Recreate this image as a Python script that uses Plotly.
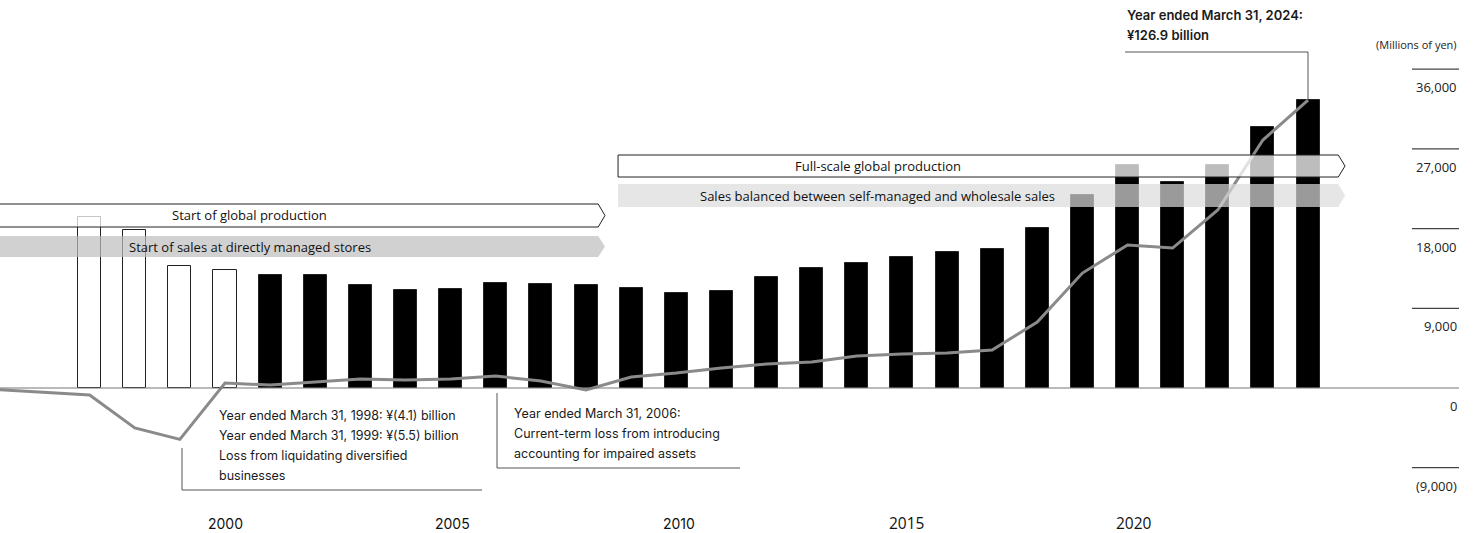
import plotly.graph_objects as go

# fiscal years (year ended March 31)
years = list(range(1997, 2025))
# net sales, billions of yen (bars)
sales = [75.3, 69.6, 53.8, 52.0, 49.8, 49.8, 45.4, 43.2, 43.6, 46.3, 45.8, 45.4, 44.1, 41.9,
         42.7, 48.9, 52.9, 55.1, 57.7, 59.9, 61.2, 70.5, 85.0, 98.3, 90.8, 98.3, 115.0, 126.9]

# profit line, millions of yen
line_years = list(range(1995, 2025))
profit = [-200, -500, -790, -4500, -5800, 560, 340, 680, 1020, 900, 1020, 1350, 790, -230,
          1240, 1690, 2260, 2710, 2940, 3610, 3840, 3950, 4290, 7450, 12980, 16150, 15800,
          20100, 28000, 32500]

tick_vals = [36000, 27000, 18000, 9000, 0, -9000]
tick_text = ["36,000", "27,000", "18,000", "9,000", "0", "(9,000)"]
year_labels = [2000, 2005, 2010, 2015, 2020]

W, H = 1475, 533
FONT = "Open Sans"
NOTE = "Inter"


def py(px):
    # pixel row -> paper y
    return 1 - px / H


def xp(px):
    # pixel column -> paper x
    return px / W


# hollow bars before 2001, solid afterwards
bar_fill = ["white" if y < 2001 else "black" for y in years]

fig = go.Figure()
fig.add_trace(go.Bar(x=years, y=sales, width=0.51, marker_color=bar_fill,
                     marker_line_color="#222", marker_line_width=1, yaxis="y"))
fig.add_trace(go.Scatter(x=line_years, y=profit, mode="lines", yaxis="y2",
                         line=dict(color="#8a8a8a", width=3)))

shapes = []
ann = []


def arrow(x0, x1, xt, top, bot, fill, outline):
    mid = (top + bot) / 2
    path = (f"M {x0},{py(top)} L {x1},{py(top)} L {xt},{py(mid)} "
            f"L {x1},{py(bot)} L {x0},{py(bot)} Z")
    shapes.append(dict(type="path", path=path, xref="x", yref="paper", layer="above",
                       fillcolor=fill, line=dict(color=outline, width=1 if outline else 0)))


# timeline arrows
arrow(1994.5, 2008.27, 2008.42, 204, 227, "rgba(255,255,255,0.74)", "#222")
arrow(1994.5, 2008.27, 2008.42, 236, 257, "rgba(190,190,190,0.7)", None)
arrow(2008.71, 2024.67, 2024.82, 155, 177, "rgba(255,255,255,0.74)", "#222")
arrow(2008.71, 2024.67, 2024.82, 184, 207, "rgba(219,219,219,0.7)", None)

for txt, x, yy in [("Start of global production", 2000.55, 215.5),
                   ("Start of sales at directly managed stores", 2000.55, 246.5),
                   ("Full-scale global production", 2014.47, 166),
                   ("Sales balanced between self-managed and wholesale sales", 2014.47, 195.5)]:
    ann.append(dict(text=txt, x=x, y=py(yy), xref="x", yref="paper", showarrow=False,
                    xanchor="center", yanchor="middle", font=dict(size=13, color="#111", family=FONT)))

# baseline
shapes.append(dict(type="line", xref="paper", yref="y2", x0=0, x1=xp(1459), y0=0, y1=0,
                   line=dict(color="#777", width=1.2)))

# right-hand scale
for v, t in zip(tick_vals, tick_text):
    if v != 0:
        shapes.append(dict(type="line", xref="paper", yref="y2", x0=xp(1412), x1=xp(1459),
                           y0=v, y1=v, line=dict(color="#444", width=1.2)))
    ann.append(dict(text=t, x=xp(1459), y=v, xref="paper", yref="y2", showarrow=False,
                    xanchor="right", yanchor="middle", yshift=-18,
                    font=dict(size=13, color="#222", family=FONT)))
ann.append(dict(text="(Millions of yen)", x=xp(1459), y=py(45), xref="paper", yref="paper",
                showarrow=False, xanchor="right", yanchor="middle",
                font=dict(size=11, color="#222", family=FONT)))

# year labels (the printed labels drift slightly right of the bars)
for yl, shift in zip(year_labels, [0, 2, 3, 5, 6]):
    ann.append(dict(text=str(yl), x=yl, y=py(523), xref="x", yref="paper", showarrow=False,
                    xanchor="center", yanchor="middle", xshift=shift,
                    font=dict(size=14 if yl < 2015 else 15.5, color="#111",
                              family=NOTE if yl < 2015 else FONT)))


def note(lines, x, y0, step=20, weight="normal", size=12.5):
    for i, t in enumerate(lines):
        ann.append(dict(text=t, x=xp(x), y=py(y0 + i * step), xref="paper", yref="paper",
                        showarrow=False, xanchor="left", yanchor="middle",
                        font=dict(size=size, color="#1a1a1a", family=NOTE, weight=weight)))


# callouts
note(["Year ended March 31, 1998: ¥(4.1) billion", "Year ended March 31, 1999: ¥(5.5) billion",
      "Loss from liquidating diversified", "businesses"], 217, 415)
shapes.append(dict(type="path", xref="paper", yref="paper", layer="above",
                   path=f"M {xp(182)},{py(448)} L {xp(182)},{py(490)} L {xp(482)},{py(490)}",
                   line=dict(color="#555", width=1)))

note(["Year ended March 31, 2006:", "Current-term loss from introducing",
      "accounting for impaired assets"], 512, 413)
shapes.append(dict(type="path", xref="paper", yref="paper", layer="above",
                   path=f"M {xp(497)},{py(393)} L {xp(497)},{py(468)} L {xp(740)},{py(468)}",
                   line=dict(color="#555", width=1)))

note(["Year ended March 31, 2024:", "¥126.9 billion"], 1125, 15, weight=600, size=13)
shapes.append(dict(type="path", xref="paper", yref="paper", layer="above",
                   path=f"M {xp(1125)},{py(52)} L {xp(1308)},{py(52)} L {xp(1308)},{py(99)}",
                   line=dict(color="#555", width=1)))

fig.update_layout(
    width=W, height=H,
    margin=dict(l=0, r=0, t=0, b=0),
    paper_bgcolor="white", plot_bgcolor="white",
    showlegend=False,
    bargap=0,
    xaxis=dict(range=[1995.014, 2027.70], visible=False),
    yaxis=dict(range=[-63.9, 170.96], visible=False),
    yaxis2=dict(range=[-16374, 43814], visible=False, overlaying="y"),
    shapes=shapes,
    annotations=ann,
)

# remove the default page margin so the chart sits at the window's corner
fig.write_html("out.html", config={"displayModeBar": False},
               post_script="document.body.style.margin='0';")
